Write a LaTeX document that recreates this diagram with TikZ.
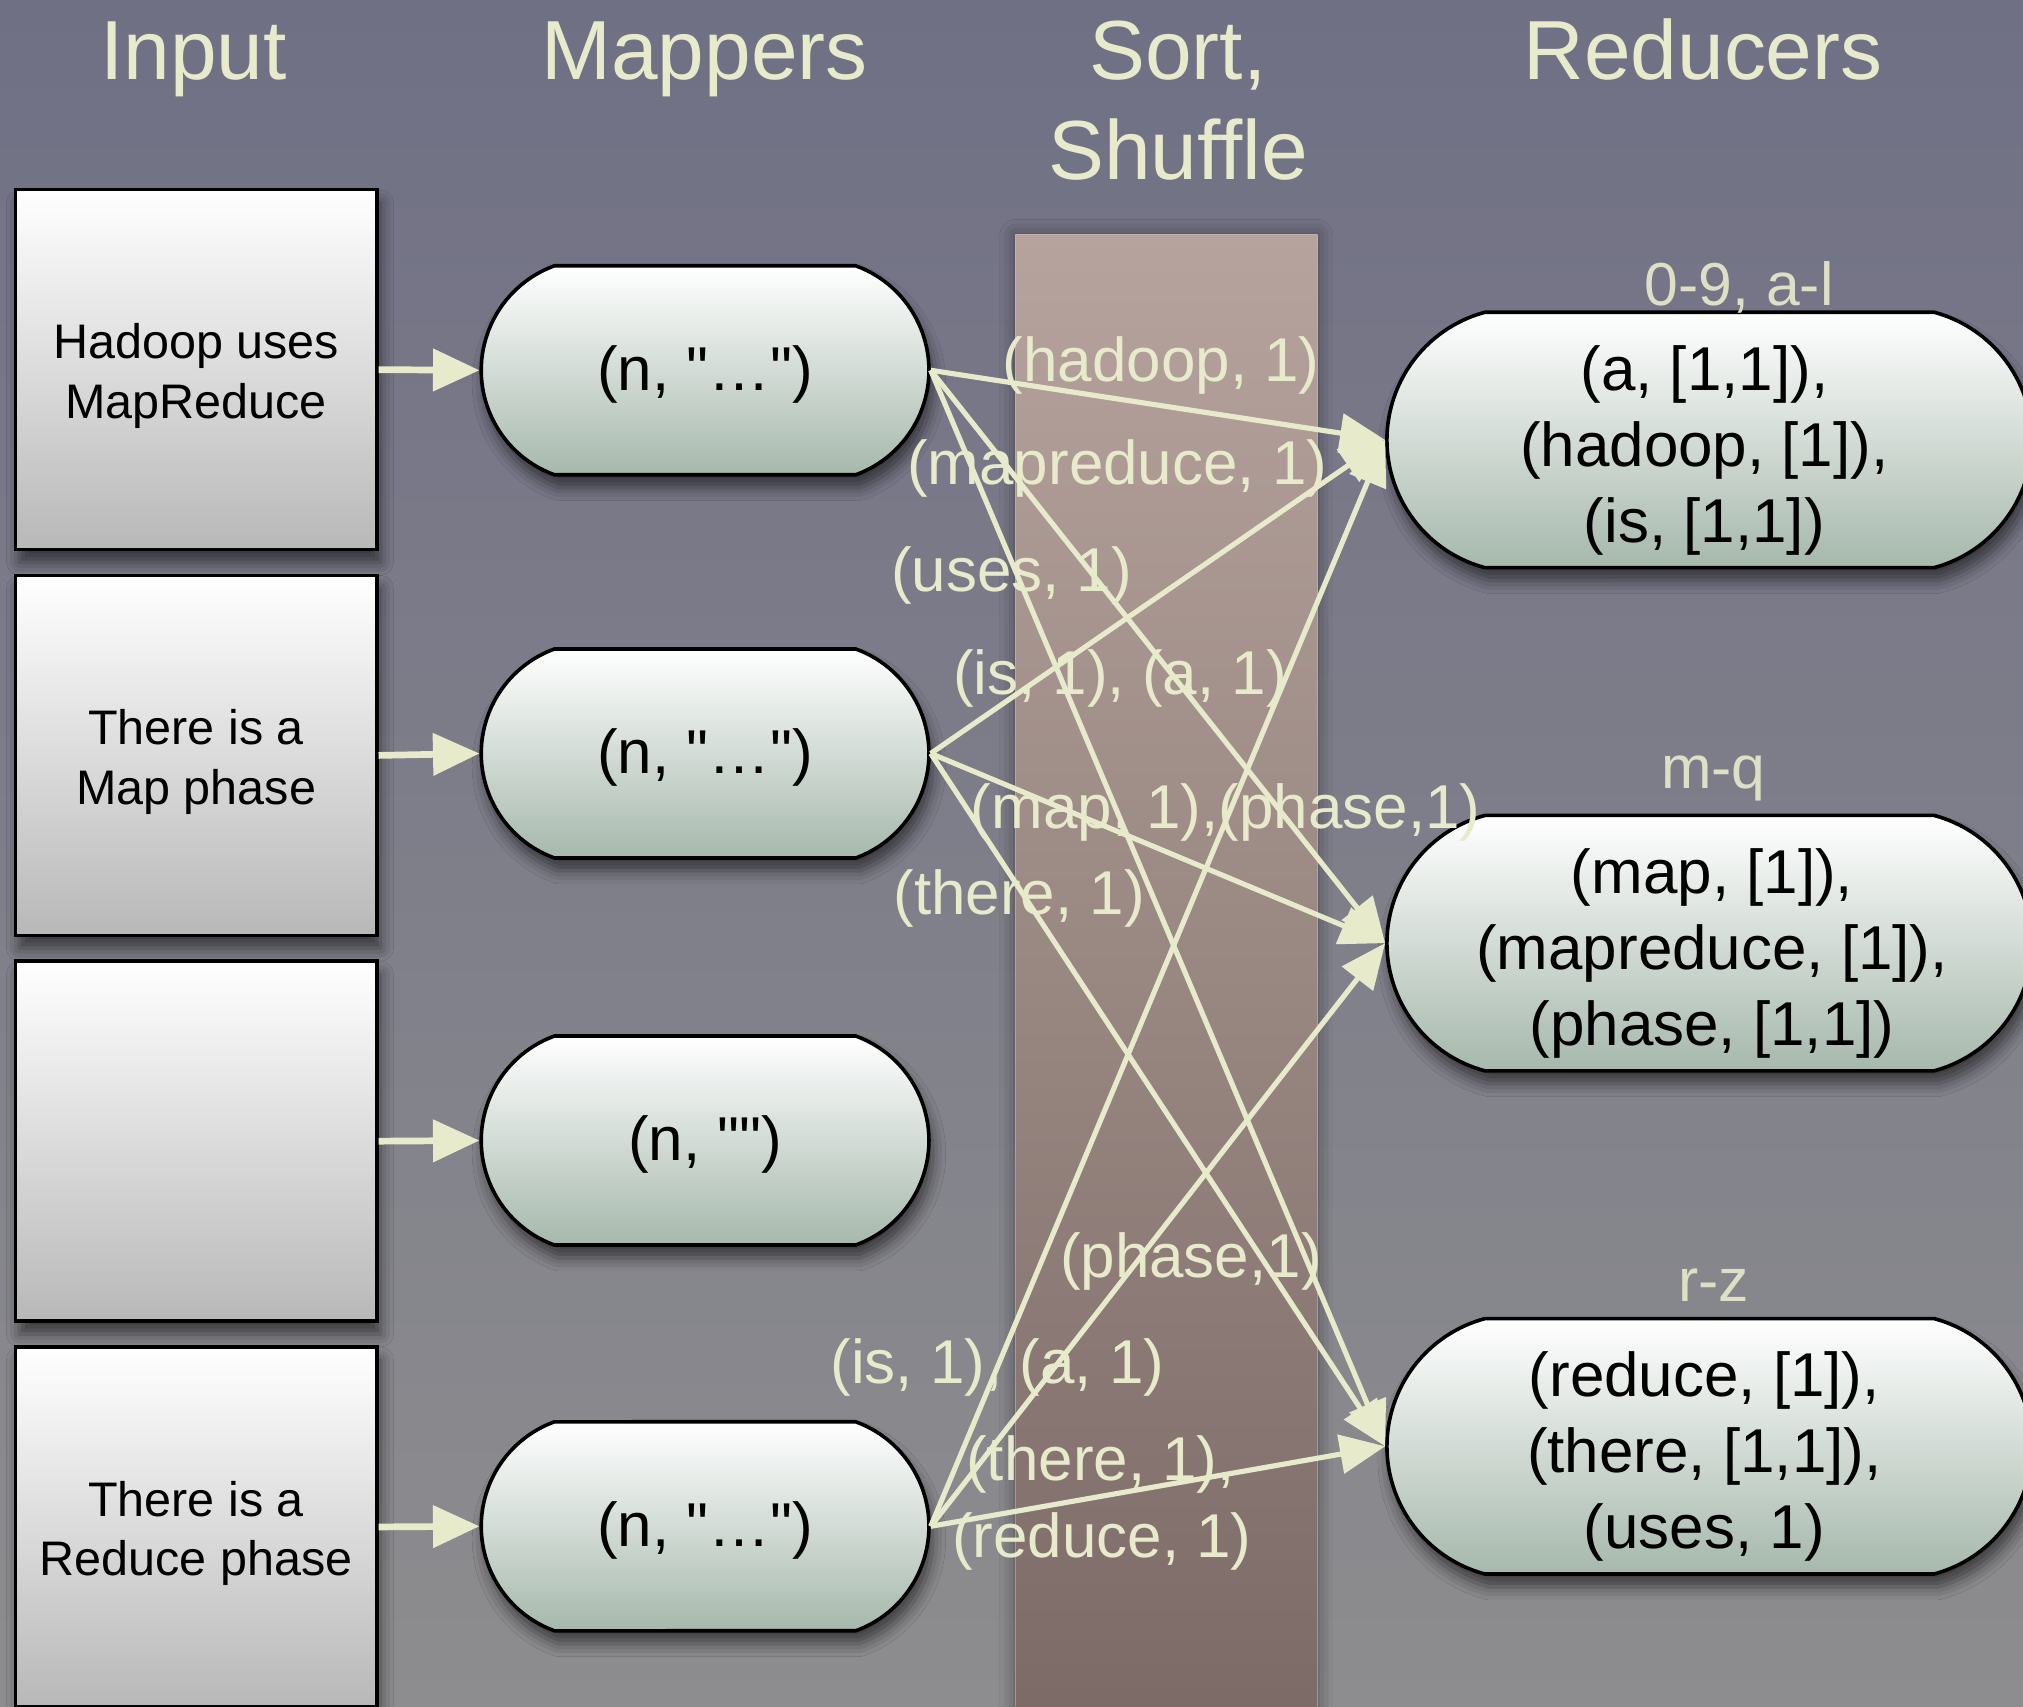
\documentclass[tikz,border=0pt]{standalone}
\usepackage{fontspec}
\setmainfont{Liberation Sans}[Ligatures=TeXOff]
\usetikzlibrary{arrows.meta,shapes.misc,shadows.blur}
\definecolor{bgtop}{RGB}{112,112,133}
\definecolor{bgbot}{RGB}{141,141,143}
\definecolor{coltop}{RGB}{182,163,157}
\definecolor{colbot}{RGB}{123,106,102}
\definecolor{cream}{RGB}{232,234,204}
\definecolor{creamlbl}{RGB}{222,224,198}
\definecolor{boxbot}{RGB}{184,184,184}
\definecolor{capbot}{RGB}{166,184,172}
\begin{document}
\begin{tikzpicture}[x=0.5pt,y=-0.5pt,
  sh/.style={blur shadow={shadow xshift=1.5pt,shadow yshift=-5pt,shadow blur radius=5pt,shadow opacity=55}},
  inbox/.style={draw=black,line width=1.4pt,top color=white,bottom color=boxbot,
    minimum width=140pt,minimum height=139.5pt,inner sep=0pt,sh},
  intext/.style={align=center,inner sep=0pt,font=\fontsize{18.8}{23}\selectfont},
  mapper/.style={rounded rectangle,rounded rectangle arc length=140,draw=black,line width=1.4pt,
    top color=white,bottom color=capbot,minimum width=173.5pt,minimum height=81pt,inner sep=0pt,sh},
  reducer/.style={rounded rectangle,rounded rectangle arc length=150,draw=black,line width=1.4pt,
    top color=white,bottom color=capbot,minimum width=250pt,minimum height=99pt,inner sep=0pt,sh},
  ntext/.style={align=center,inner sep=0pt,font=\fontsize{24}{29.5}\selectfont},
  title/.style={text=cream,align=center,font=\fontsize{32.5}{39}\selectfont},
  elabel/.style={text=cream,font=\fontsize{24}{29}\selectfont,inner sep=0pt},
  rlabel/.style={text=creamlbl,font=\fontsize{23.5}{28}\selectfont,inner sep=0pt},
  conn/.style={draw=cream,line width=2pt,-{Triangle[length=17.5pt,width=15pt]}},
  inarrow/.style={draw=cream,line width=2.6pt,-{Triangle[length=18pt,width=16pt]}}
]
\useasboundingbox (0,0) rectangle (1568,1323);
\clip (0,0) rectangle (1568,1323);
\fill[top color=bgtop,bottom color=bgbot] (0,0) rectangle (1568,1323);
% sort/shuffle column
\fill[top color=coltop,bottom color=colbot,blur shadow={shadow xshift=0pt,shadow yshift=0pt,shadow blur radius=6pt,shadow opacity=45}] (787,182) rectangle (1021,1340);
\draw[coltop!70!white,opacity=0.5,line width=0.5pt] (787,1340) -- (787,182) -- (1021,182) -- (1021,1340);

% titles
\node[title,anchor=base] (tin) at (150,62) {Input};
\node[title,anchor=base] (tmap) at (546,62) {Mappers};
\node[title] (tsort) at (913,78) {Sort,\\Shuffle};
\node[title,anchor=base] (tred) at (1320,62) {Reducers};

% input boxes
\node[inbox] (i1) at (152,286.5) {};
\node[inbox] (i2) at (152,585.5) {};
\node[inbox] (i3) at (152,884.5) {};
\node[inbox] (i4) at (152,1183.5) {};
\node[intext] (i1t) at ([yshift=-2.5pt]i1.center) {Hadoop uses\\MapReduce};
\node[intext] (i2t) at ([yshift=-2.5pt]i2.center) {There is a\\Map phase};
\node[intext] (i4t) at ([yshift=-2.5pt]i4.center) {There is a\\Reduce phase};

% mappers
\node[mapper] (m1) at (546.5,287) {};
\node[mapper] (m2) at (546.5,584) {};
\node[mapper] (m3) at (546.5,884) {};
\node[mapper] (m4) at (546.5,1183) {};
\node[ntext] (m1t) at ([yshift=-1.5pt]m1.center) {(n, "…")};
\node[ntext] (m2t) at ([yshift=-1.5pt]m2.center) {(n, "…")};
\node[ntext] (m3t) at ([yshift=-1.5pt]m3.center) {(n, "")};
\node[ntext] (m4t) at ([yshift=-1.5pt]m4.center) {(n, "…")};

% reducers
\node[reducer] (r1) at (1325,341) {};
\node[reducer] (r2) at (1325,731) {};
\node[reducer] (r3) at (1325,1121) {};
\node[ntext] (r1t) at ([xshift=-2pt,yshift=-4pt]r1.center) {(a, [1,1]),\\(hadoop, [1]),\\(is, [1,1])};
\node[ntext] (r2t) at ([xshift=1pt,yshift=-4pt]r2.center) {(map, [1]),\\(mapreduce, [1]),\\(phase, [1,1])};
\node[ntext] (r3t) at ([xshift=-2pt,yshift=-4pt]r3.center) {(reduce, [1]),\\(there, [1,1]),\\(uses, 1)};

% reducer range labels
\node[rlabel] (l1) at (1348,223) {0-9, a-l};
\node[rlabel] (l2) at (1328,603) {m-q};
\node[rlabel] (l3) at (1328,996) {r-z};

% input arrows
\draw[inarrow] (i1.east) -- (m1.west);
\draw[inarrow] (i2.east) -- (m2.west);
\draw[inarrow] (i3.east) -- (m3.west);
\draw[inarrow] (i4.east) -- (m4.west);

% shuffle arrows
\draw[conn] (m1.east) -- (r1.west);
\draw[conn] (m1.east) -- (r2.west);
\draw[conn] (m1.east) -- (r3.west);
\draw[conn] (m2.east) -- (r1.west);
\draw[conn] (m2.east) -- (r2.west);
\draw[conn] (m2.east) -- (r3.west);
\draw[conn] (m4.east) -- (r1.west);
\draw[conn] (m4.east) -- (r2.west);
\draw[conn] (m4.east) -- (r3.west);

% edge labels
\node[elabel] (e1) at (900,283) {(hadoop, 1)};
\node[elabel] (e2) at (866,363) {(mapreduce, 1)};
\node[elabel] (e3) at (784,446) {(uses, 1)};
\node[elabel] (e4) at (868,526) {(is, 1), (a, 1)};
\node[elabel] (e5) at (950,630) {(map, 1),(phase,1)};
\node[elabel] (e6) at (790,696) {(there, 1)};
\node[elabel] (e7) at (923,978) {(phase,1)};
\node[elabel] (e8) at (773,1060) {(is, 1), (a, 1)};
\node[elabel] (e9) at (853,1135) {(there, 1),};
\node[elabel] (e10) at (854,1195) {(reduce, 1)};
\end{tikzpicture}
\end{document}
